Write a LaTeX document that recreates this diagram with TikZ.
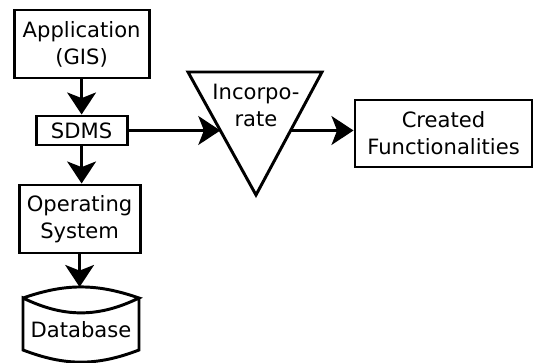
\documentclass[tikz,border=0pt]{standalone}
\usepackage{fontspec}
\setmainfont{DejaVu Sans}
\usetikzlibrary{arrows.meta, calc}

\begin{document}
\begin{tikzpicture}[line width=2.1pt,
    box/.style={draw, align=center, inner sep=0pt},
    flow/.style={-{Stealth[length=0.55cm, width=0.72cm, inset=0.14cm]}},
    font=\fontsize{15}{19.2}\selectfont]
  \useasboundingbox (0,0) rectangle (13.35,9.075);

  \node[box, minimum width=3.375cm, minimum height=1.7cm] (app) at (2.04,7.975) {Application\\(GIS)};
  \node[box, minimum width=2.275cm, minimum height=0.725cm] (sdms) at (2.04,5.8125) {SDMS};
  \node[box, minimum width=3.025cm, minimum height=1.7cm] (os) at (1.99,3.6) {Operating\\System};

  % database drum
  \draw[line join=miter] (0.575,1.625) to[bend left=19] (3.475,1.625)
    to[bend left=26] (0.575,1.625) -- (0.575,0.325)
    to[bend right=21] (3.475,0.325) -- (3.475,1.625);
  \node (db) at (2.025,0.825) {Database};
  \coordinate (dbtop) at (2.025,1.9);

  % incorporate triangle
  \coordinate (tl) at (4.7,7.275);
  \coordinate (tr) at (8.05,7.275);
  \coordinate (tb) at (6.4,4.2);
  \draw[line join=miter] (tl) -- (tr) -- (tb) -- cycle;
  \node[align=center] (inc) at (6.4,6.45) {Incorpo-\\rate};
  \coordinate (incin) at ($(tl)!0.4756!(tb)$);
  \coordinate (incout) at ($(tr)!0.4756!(tb)$);

  \node[box, minimum width=4.425cm, minimum height=1.675cm] (cf) at (11.0875,5.7375) {Created\\Functionalities};

  \draw[flow] (app) -- (sdms);
  \draw[flow] (sdms) -- (sdms |- os.north);
  \draw[flow] (os) -- (os |- dbtop);
  \draw[flow] (sdms) -- (incin);
  \draw[flow] (incout) -- (incout -| cf.west);
\end{tikzpicture}
\end{document}
